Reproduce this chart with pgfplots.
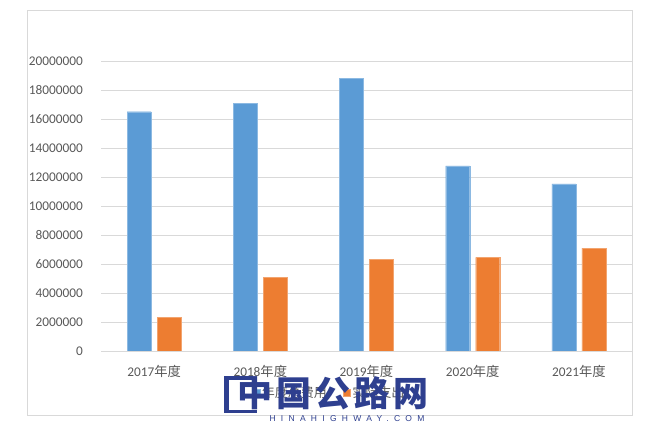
\documentclass[border=0pt]{standalone}
\usepackage{pgfplots}
\pgfplotsset{compat=1.18}
\usepackage{fontspec}
\setmainfont{Carlito}
\newfontfamily\cjk{Noto Sans CJK SC}
\newfontfamily\wmcjk[LetterSpace=11]{Noto Sans CJK SC}
\newfontfamily\wmlat[LetterSpace=62]{Liberation Sans}

\definecolor{barblue}{HTML}{5B9BD5}
\definecolor{barorange}{HTML}{ED7D31}
\definecolor{ticktext}{HTML}{595959}
\definecolor{gridgray}{HTML}{D9D9D9}
\definecolor{navy}{HTML}{2E3F8F}

\begin{document}
\begin{tikzpicture}
	\path (0bp,0bp) rectangle (650bp,425bp);
	\draw[gridgray, line width=0.8bp] (27bp,10bp) rectangle (632bp,415bp);

	\begin{axis}[
		at={(101bp,74bp)}, anchor=south west,
		scale only axis,
		width=531bp, height=290bp,
		ybar=6bp, bar width=24bp,
		xmin=-0.5, xmax=4.5,
		ymin=0, ymax=20000000,
		xtick={0,1,2,3,4},
		xticklabels={2017{\cjk 年度},2018{\cjk 年度},2019{\cjk 年度},2020{\cjk 年度},2021{\cjk 年度}},
		ytick={0,2000000,4000000,6000000,8000000,10000000,12000000,14000000,16000000,18000000,20000000},
		scaled y ticks=false,
		/pgf/number format/.cd, fixed, 1000 sep={}, assume math mode=true,
		/pgfplots/.cd,
		ymajorgrids=true,
		grid style={gridgray, line width=0.8bp},
		axis line style={draw=none},
		major tick length=0pt,
		tick label style={font=\fontsize{13.3bp}{15bp}\selectfont, text=ticktext},
		yticklabel style={anchor=east, inner sep=0pt, xshift=-18bp},
		xticklabel style={anchor=north, inner sep=0pt, yshift=-14bp},
		legend columns=2,
		legend style={
			at={(0.4303,-0.1448)}, anchor=center,
			draw=none, fill=none,
			font=\fontsize{13bp}{15bp}\selectfont\cjk, text=ticktext,
			/tikz/every even column/.append style={column sep=14bp},
		},
		legend image code/.code={\fill[#1] (0bp,-3.5bp) rectangle (7bp,3.5bp);},
	]

	\addplot[fill=barblue, draw=barblue!70!white] coordinates {
		(0,16500000)
		(1,17080000)
		(2,18780000)
		(3,12760000)
		(4,11520000)
	};

	\addplot[fill=barorange, draw=barorange!70!white] coordinates {
		(0,2300000)
		(1,5060000)
		(2,6330000)
		(3,6460000)
		(4,7090000)
	};
	\legend{年度总费用, 实际支出}

	\end{axis}

	% watermark over the legend
	\fill[navy] (224bp,12bp) rectangle (229bp,49bp);
	\fill[navy] (224bp,45bp) rectangle (253bp,49bp);
	\fill[navy] (224bp,12bp) rectangle (257bp,15bp);
	\node[navy, inner sep=0pt] at (333bp,32bp) {\wmcjk\bfseries\fontsize{35bp}{38bp}\selectfont 中国公路网};
	\node[navy, inner sep=0pt] at (347bp,6bp) {\wmlat\fontsize{8.5bp}{10bp}\selectfont HINAHIGHWAY.COM};
\end{tikzpicture}
\end{document}
